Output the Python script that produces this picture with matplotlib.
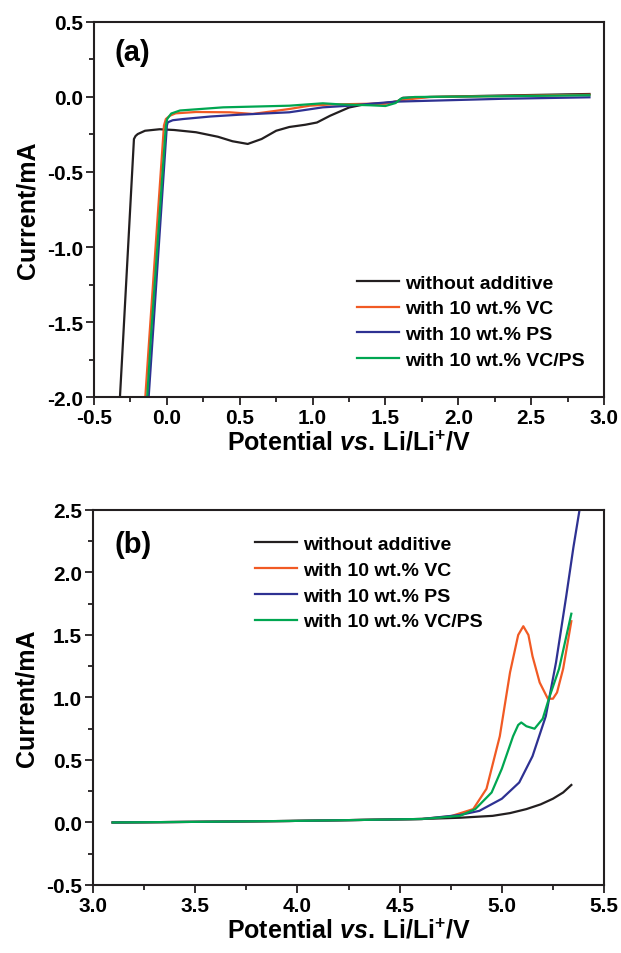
import numpy as np
import matplotlib as mpl
mpl.use('Agg')
import matplotlib.pyplot as plt
from matplotlib.ticker import MultipleLocator

plt.rcParams['font.family'] = 'Liberation Sans'
plt.rcParams['font.weight'] = 'bold'
plt.rcParams['axes.labelweight'] = 'bold'
plt.rcParams['mathtext.fontset'] = 'custom'
plt.rcParams['mathtext.rm'] = 'Liberation Sans:bold'
plt.rcParams['mathtext.it'] = 'Liberation Sans:italic:bold'
plt.rcParams['mathtext.bf'] = 'Liberation Sans:bold'

labels = ['without additive', 'with 10 wt.% VC', 'with 10 wt.% PS', 'with 10 wt.% VC/PS']
colors = ['#231f20', '#f15a24', '#2e3192', '#00a651']

# (a) cathodic scan
a_black_v = [-0.322, -0.30, -0.226, -0.215, -0.20, -0.15, -0.05, 0.05, 0.2, 0.35, 0.45, 0.555, 0.65, 0.75, 0.84, 0.95, 1.03, 1.12, 1.25, 1.35, 1.5, 1.58, 1.62, 1.8, 2.2, 2.6, 2.9]
a_black_i = [-2.0, -1.61, -0.28, -0.26, -0.247, -0.225, -0.215, -0.22, -0.235, -0.265, -0.295, -0.313, -0.28, -0.225, -0.20, -0.185, -0.17, -0.125, -0.07, -0.05, -0.04, -0.03, -0.005, 0.0, 0.008, 0.015, 0.02]
a_red_v = [-0.148, -0.121, -0.02, -0.007, 0.02, 0.06, 0.2, 0.43, 0.59, 0.84, 0.98, 1.12, 1.39, 1.5, 1.62, 1.8, 2.4, 2.9]
a_red_i = [-2.0, -1.61, -0.19, -0.147, -0.125, -0.109, -0.10, -0.102, -0.113, -0.08, -0.058, -0.05, -0.045, -0.045, -0.02, 0.0, 0.008, 0.015]
a_blue_v = [-0.125, -0.098, 0.0, 0.006, 0.04, 0.11, 0.3, 0.50, 0.84, 1.07, 1.25, 1.4, 1.57, 1.8, 2.3, 2.9]
a_blue_i = [-2.0, -1.61, -0.19, -0.169, -0.155, -0.147, -0.13, -0.118, -0.102, -0.069, -0.058, -0.045, -0.031, -0.025, -0.012, -0.002]
a_green_v = [-0.135, -0.11, -0.007, 0.002, 0.03, 0.09, 0.386, 0.84, 1.07, 1.2, 1.39, 1.5, 1.57, 1.61, 1.7, 2.3, 2.9]
a_green_i = [-2.0, -1.61, -0.19, -0.147, -0.11, -0.09, -0.069, -0.058, -0.042, -0.05, -0.055, -0.06, -0.04, -0.009, 0.0, 0.005, 0.012]

# (b) anodic scan
b_black_v = [3.096, 3.5, 3.96, 4.3, 4.61, 4.795, 4.955, 5.04, 5.12, 5.19, 5.25, 5.30, 5.34]
b_black_i = [0.0, 0.005, 0.012, 0.02, 0.028, 0.038, 0.053, 0.075, 0.107, 0.145, 0.19, 0.24, 0.30]
b_red_v = [3.096, 3.5, 3.96, 4.3, 4.61, 4.75, 4.86, 4.925, 4.99, 5.04, 5.08, 5.105, 5.13, 5.15, 5.185, 5.225, 5.25, 5.27, 5.30, 5.34]
b_red_i = [0.0, 0.005, 0.012, 0.02, 0.028, 0.05, 0.107, 0.27, 0.69, 1.20, 1.50, 1.57, 1.50, 1.33, 1.12, 0.99, 0.99, 1.04, 1.23, 1.61]
b_blue_v = [3.096, 3.5, 3.96, 4.3, 4.61, 4.795, 4.89, 5.00, 5.085, 5.15, 5.215, 5.265, 5.315, 5.35, 5.38]
b_blue_i = [0.0, 0.005, 0.012, 0.02, 0.028, 0.06, 0.093, 0.19, 0.32, 0.53, 0.85, 1.28, 1.81, 2.2, 2.5]
b_green_v = [3.096, 3.5, 3.96, 4.3, 4.61, 4.795, 4.87, 4.95, 5.00, 5.055, 5.08, 5.095, 5.12, 5.16, 5.20, 5.23, 5.28, 5.34]
b_green_i = [0.0, 0.005, 0.012, 0.02, 0.028, 0.053, 0.107, 0.24, 0.43, 0.69, 0.78, 0.80, 0.77, 0.75, 0.83, 0.99, 1.23, 1.67]

a_data = [(a_black_v, a_black_i), (a_red_v, a_red_i), (a_blue_v, a_blue_i), (a_green_v, a_green_i)]
b_data = [(b_black_v, b_black_i), (b_red_v, b_red_i), (b_blue_v, b_blue_i), (b_green_v, b_green_i)]

fig = plt.figure(figsize=(6.21, 9.54), dpi=100)
axa = fig.add_axes([0.1514, 0.5828, 0.8213, 0.3931])
axb = fig.add_axes([0.1498, 0.0713, 0.8229, 0.3931])

xlab = r'$\mathrm{Potential}\ \mathit{vs}\mathrm{.}\,\mathrm{Li/Li^{+}/V}$'

def style(ax):
  for s in ax.spines.values():
    s.set_linewidth(1.5)
    s.set_color('#231f20')
  ax.tick_params(which='both', direction='out', top=False, right=False, width=1.3, labelsize=15, color='#231f20', pad=2)
  ax.tick_params(which='major', length=6)
  ax.tick_params(which='minor', length=3.5)
  ax.xaxis.set_minor_locator(MultipleLocator(0.25))
  ax.yaxis.set_minor_locator(MultipleLocator(0.25))
  ax.xaxis.set_major_locator(MultipleLocator(0.5))
  ax.yaxis.set_major_locator(MultipleLocator(0.5))
  ax.xaxis.set_major_formatter(mpl.ticker.FormatStrFormatter('%.1f'))
  ax.yaxis.set_major_formatter(mpl.ticker.FormatStrFormatter('%.1f'))
  ax.set_xlabel(xlab, fontsize=18, labelpad=2)
  ax.set_ylabel('Current/mA', fontsize=18, fontweight='bold', labelpad=5)

for (v, i), c, lab in zip(a_data, colors, labels):
  axa.plot(v, i, c=c, lw=1.6, label=lab)
axa.set_xlim(-0.5, 3.0)
axa.set_ylim(-2.0, 0.5)
style(axa)
axa.text(0.04, 0.92, '(a)', transform=axa.transAxes, fontsize=21, va='center', ha='left')
axa.legend(loc='upper left', bbox_to_anchor=(0.516, 0.328), frameon=False, fontsize=14,
           handlelength=2.15, handletextpad=0.3, labelspacing=0.42, borderpad=0, borderaxespad=0)

for (v, i), c, lab in zip(b_data, colors, labels):
  axb.plot(v, i, c=c, lw=1.6, label=lab)
axb.set_xlim(3.0, 5.5)
axb.set_ylim(-0.5, 2.5)
style(axb)
axb.text(0.043, 0.909, '(b)', transform=axb.transAxes, fontsize=21, va='center', ha='left')
axb.legend(loc='upper left', bbox_to_anchor=(0.317, 0.932), frameon=False, fontsize=14,
           handlelength=2.15, handletextpad=0.3, labelspacing=0.42, borderpad=0, borderaxespad=0)

plt.savefig('out.png', dpi=100)
